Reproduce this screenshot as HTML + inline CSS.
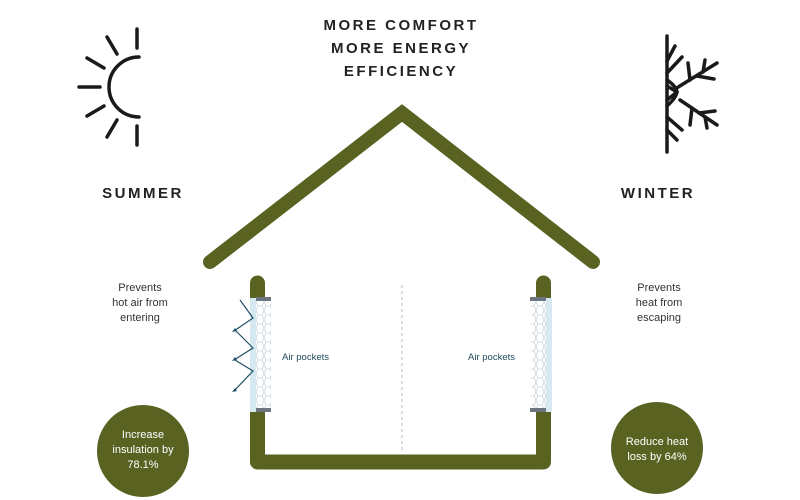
<!DOCTYPE html>
<html><head><style>
body{margin:0;background:#fff;}
svg{display:block}
text{font-family:"Liberation Sans",sans-serif;}
</style></head><body>
<svg width="800" height="500" viewBox="0 0 800 500" xmlns="http://www.w3.org/2000/svg">
<defs>
<pattern id="hex" width="8" height="9" patternUnits="userSpaceOnUse">
<path d="M2,0 L6,0 L8,4.5 L6,9 L2,9 L0,4.5 Z" fill="none" stroke="#c8d4dc" stroke-width="0.8"/>
</pattern>
</defs>
<g font-weight="bold" font-size="15" fill="#222" text-anchor="middle" letter-spacing="2.5">
<text x="401" y="30">MORE COMFORT</text>
<text x="401" y="53">MORE ENERGY</text>
<text x="401" y="76">EFFICIENCY</text>
<text x="143" y="198">SUMMER</text>
<text x="658" y="198">WINTER</text>
</g>
<g stroke="#1a1a1a" stroke-width="3.5" stroke-linecap="round" fill="none">
<path d="M139,57 A30,30 0 0 0 139,117"/>
<line x1="137" y1="29" x2="137" y2="48"/>
<line x1="137" y1="126" x2="137" y2="145"/>
<line x1="79" y1="87" x2="100" y2="87"/>
<line x1="107" y1="37" x2="117" y2="54"/>
<line x1="87" y1="58" x2="104" y2="68"/>
<line x1="87" y1="116" x2="104" y2="106"/>
<line x1="107" y1="137" x2="117" y2="120"/>
</g>
<g stroke="#1a1a1a" stroke-width="3.5" stroke-linecap="round" fill="none">
<line x1="667" y1="36" x2="667" y2="152"/>
<line x1="667" y1="61" x2="675" y2="46"/>
<line x1="667" y1="73" x2="682" y2="57"/>
<line x1="667" y1="130" x2="677" y2="140"/>
<line x1="667" y1="117" x2="682" y2="130"/>
<path d="M667,80 Q676,86 677,92 Q676,98 667,106"/>
<path d="M677,92 L667,86 M677,92 L667,100"/>
<line x1="675" y1="89" x2="717" y2="63"/>
<line x1="680" y1="100" x2="717" y2="125"/>
<line x1="690" y1="80" x2="688" y2="63"/>
<line x1="697" y1="76" x2="714" y2="79"/>
<line x1="703" y1="72" x2="705" y2="60"/>
<line x1="692" y1="108" x2="690" y2="125"/>
<line x1="699" y1="113" x2="715" y2="111"/>
<line x1="705" y1="117" x2="707" y2="128"/>
</g>
<polyline points="210,262 402,113 593,262" fill="none" stroke="#5a6222" stroke-width="14" stroke-linecap="round" stroke-linejoin="miter"/>
<path d="M257.5,283 L257.5,462 L543.5,462 L543.5,283" fill="none" stroke="#5a6222" stroke-width="15" stroke-linecap="round" stroke-linejoin="round"/>
<line x1="402" y1="285" x2="402" y2="450" stroke="#bbb" stroke-width="1" stroke-dasharray="3,3"/>
<rect x="250" y="298" width="6" height="114" fill="#d6e9f0"/>
<rect x="256" y="298" width="15" height="114" fill="#fff"/>
<rect x="256" y="298" width="15" height="114" fill="url(#hex)"/>
<rect x="256" y="297" width="15" height="4" fill="#6c7680"/>
<rect x="256" y="408" width="15" height="4" fill="#6c7680"/>
<rect x="546" y="298" width="6" height="114" fill="#d6e9f0"/>
<rect x="531" y="298" width="15" height="114" fill="#fff"/>
<rect x="531" y="298" width="15" height="114" fill="url(#hex)"/>
<rect x="530" y="297" width="16" height="4" fill="#6c7680"/>
<rect x="530" y="408" width="16" height="4" fill="#6c7680"/>
<g stroke="#1f5068" stroke-width="1.2" fill="none">
<path d="M240,300 L253,318 L234,331"/>
<path d="M235,330 L253,348 L234,360"/>
<path d="M235,360 L253,371 L234,391"/>
</g>
<g fill="#1f5068">
<path d="M232,332 l5,-1 l-2,-3 z"/>
<path d="M232,361 l5,-1 l-2,-3 z"/>
<path d="M232,392 l5,-1 l-2,-3 z"/>
</g>
<g font-size="9.5" fill="#1f4a5e">
<text x="282" y="360">Air pockets</text>
<text x="468" y="360">Air pockets</text>
</g>
<g font-size="11" fill="#333" text-anchor="middle">
<text x="140" y="291">Prevents</text>
<text x="140" y="306">hot air from</text>
<text x="140" y="321">entering</text>
<text x="659" y="291">Prevents</text>
<text x="659" y="306">heat from</text>
<text x="659" y="321">escaping</text>
</g>
<circle cx="143" cy="451" r="46" fill="#5a6222"/>
<circle cx="657" cy="448" r="46" fill="#5a6222"/>
<g font-size="11" fill="#fff" text-anchor="middle">
<text x="143" y="438">Increase</text>
<text x="143" y="453">insulation by</text>
<text x="143" y="468">78.1%</text>
<text x="657" y="445">Reduce heat</text>
<text x="657" y="460">loss by 64%</text>
</g>
</svg>
</body></html>
